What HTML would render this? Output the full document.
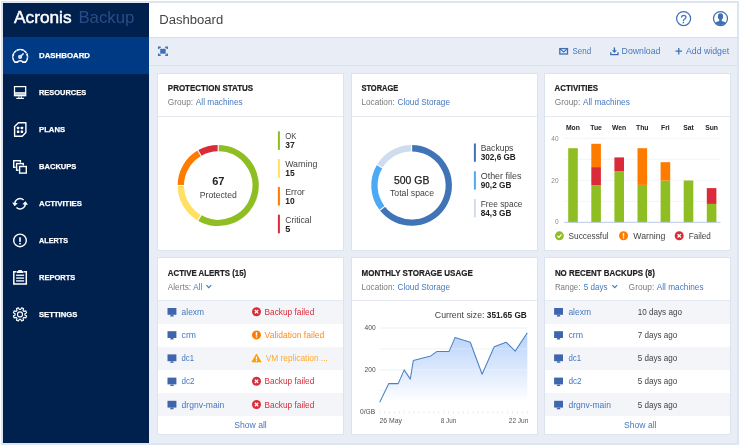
<!DOCTYPE html>
<html lang="en"><head><meta charset="utf-8"><title>Acronis Backup – Dashboard</title>
<style>
html,body{margin:0;padding:0;background:#fff}
body{width:740px;height:446px;position:relative;overflow:hidden;font-family:'Liberation Sans', sans-serif}
svg text{font-family:"Liberation Sans",sans-serif}
#frame{position:absolute;left:1px;top:1px;width:738px;height:443.5px;background:#dde5f0}
#app{position:absolute;left:3px;top:3px;width:734px;height:439.5px;background:#e9eef6;overflow:hidden}
#sidebar{position:absolute;left:0;top:0;width:146px;height:439.5px;background:#00204d}
#sidebar .active{position:absolute;left:0;top:34px;width:146px;height:37px;background:#003a85}
#topbar{position:absolute;left:146px;top:0;width:588px;height:34px;background:#fff}
#toolbar{position:absolute;left:146px;top:34px;width:588px;height:27px;border-top:1px solid #d6dfec;border-bottom:1px solid #d9e1ee;background:#e9eef6}
.card{position:absolute;background:#fff;border:1px solid #dbe3ef;box-sizing:content-box}
.card .sep{position:absolute;left:0;right:0;height:1px;background:#e4e9f2}
.card .row{position:absolute;left:0;right:0;height:23px}
</style></head><body>
<div id="frame"></div>
<div id="app">
<div id="sidebar"><div class="active"></div><svg width="146" height="439.5" viewBox="3 3 146 439.5" style="position:absolute;left:0;top:0;overflow:visible"><text x="14" y="23" font-size="16.4" fill="#fff" textLength="57.6" lengthAdjust="spacingAndGlyphs" id="logo1" stroke="#fff" stroke-width="0.45">Acronis</text><text x="78.4" y="23" font-size="16.2" fill="#294c88" textLength="56.0" lengthAdjust="spacingAndGlyphs" id="logo2">Backup</text><text x="39" y="58.2" font-size="7.9" font-weight="bold" fill="#fff" textLength="51.0" lengthAdjust="spacingAndGlyphs" class="nav" stroke="#fff" stroke-width="0.25">DASHBOARD</text><text x="39" y="95.2" font-size="7.9" font-weight="bold" fill="#fff" textLength="47.1" lengthAdjust="spacingAndGlyphs" class="nav" stroke="#fff" stroke-width="0.25">RESOURCES</text><text x="39" y="132.2" font-size="7.9" font-weight="bold" fill="#fff" textLength="26.1" lengthAdjust="spacingAndGlyphs" class="nav" stroke="#fff" stroke-width="0.25">PLANS</text><text x="39" y="169.2" font-size="7.9" font-weight="bold" fill="#fff" textLength="37.4" lengthAdjust="spacingAndGlyphs" class="nav" stroke="#fff" stroke-width="0.25">BACKUPS</text><text x="39" y="206.2" font-size="7.9" font-weight="bold" fill="#fff" textLength="43.0" lengthAdjust="spacingAndGlyphs" class="nav" stroke="#fff" stroke-width="0.25">ACTIVITIES</text><text x="39" y="243.2" font-size="7.9" font-weight="bold" fill="#fff" textLength="29.0" lengthAdjust="spacingAndGlyphs" class="nav" stroke="#fff" stroke-width="0.25">ALERTS</text><text x="39" y="280.2" font-size="7.9" font-weight="bold" fill="#fff" textLength="36.3" lengthAdjust="spacingAndGlyphs" class="nav" stroke="#fff" stroke-width="0.25">REPORTS</text><text x="39" y="317.2" font-size="7.9" font-weight="bold" fill="#fff" textLength="38.4" lengthAdjust="spacingAndGlyphs" class="nav" stroke="#fff" stroke-width="0.25">SETTINGS</text><path d="M14.9 62.1 A7.4 7.4 0 1 1 25.5 62.1 L22.7 62.1 Q22.2 60.7 20.2 60.7 Q18.2 60.7 17.7 62.1 Z" fill="none" stroke="#fff" stroke-width="1.55" stroke-linejoin="round"/><circle cx="20.1" cy="56.9" r="2.1" fill="#d3dcec"/><path d="M20.8 56.2L23.1 53.9" stroke="#e8edf6" stroke-width="1.5" stroke-linecap="round"/><path d="M13.90 57.00L12.80 57.00M14.74 53.85L13.79 53.30M17.05 51.54L16.50 50.59M20.20 50.70L20.20 49.60M23.35 51.54L23.90 50.59M25.66 53.85L26.61 53.30M26.50 57.00L27.60 57.00" stroke="#003a85" stroke-width="0.9"/><rect x="14.5" y="86.6" width="11.2" height="9.1" fill="none" stroke="#fff" stroke-width="1.25"/><rect x="14.5" y="92.2" width="11.2" height="3.6" fill="#fff"/><rect x="15.1" y="93.5" width="10" height="1.2" fill="#a7b4ca"/><path d="M18.9 96.3V98.3M21.3 96.3V98.3" stroke="#fff" stroke-width="1"/><rect x="16.3" y="97.8" width="7.6" height="1.2" fill="#fff"/><path d="M14.6 126.4L18.4 122.8H25.9V132.6L22.2 136.3H14.6Z" fill="none" stroke="#fff" stroke-width="1.4" stroke-linejoin="round"/><rect x="16.85" y="126.65" width="2.5" height="2.5" rx="0.6" fill="#fff"/><rect x="20.65" y="126.65" width="2.5" height="2.5" rx="0.6" fill="#fff"/><rect x="16.85" y="130.45" width="2.5" height="2.5" rx="0.6" fill="#fff"/><rect x="20.65" y="130.45" width="2.5" height="2.5" rx="0.6" fill="#fff"/><rect x="12.7" y="159.7" width="8.6" height="8.6" fill="#00204d"/><rect x="13.7" y="160.7" width="6.7" height="6.6" fill="#00204d" stroke="#fff" stroke-width="1.4"/><rect x="15.600000000000001" y="162.6" width="8.6" height="8.6" fill="#00204d"/><rect x="16.6" y="163.6" width="6.7" height="6.6" fill="#00204d" stroke="#fff" stroke-width="1.4"/><rect x="18.6" y="165.5" width="8.6" height="8.6" fill="#00204d"/><rect x="19.6" y="166.5" width="6.7" height="6.6" fill="#00204d" stroke="#fff" stroke-width="1.4"/><path d="M15 204.5A5.1 5.1 0 0 1 23.6 200" fill="none" stroke="#fff" stroke-width="1.5"/><path d="M12.2 202.4L14.6 206.2L17.8 203.2Z" fill="#fff"/><path d="M25.1 203A5.1 5.1 0 0 1 16.5 207.5" fill="none" stroke="#fff" stroke-width="1.5"/><path d="M27.9 205L25.6 201.2L22.3 204.2Z" fill="#fff"/><circle cx="20" cy="240.4" r="6.3" fill="none" stroke="#fff" stroke-width="1.4"/><rect x="19.05" y="237.3" width="1.9" height="4.6" fill="#dfe5ef"/><rect x="19.05" y="242.9" width="1.9" height="1.5" fill="#dfe5ef"/><path d="M16.5 271.8H13.8V284H26.3V271.8H23.6" fill="none" stroke="#fff" stroke-width="1.5"/><path d="M16.9 273V271.4Q18.2 271.2 18.6 269.9H21.6Q22 271.2 23.4 271.4V273Z" fill="#fff"/><rect x="16.1" y="274.55" width="8" height="1.5" fill="#dfe5ef"/><rect x="16.1" y="277.35" width="8" height="1.5" fill="#dfe5ef"/><rect x="16.1" y="280.15" width="8" height="1.5" fill="#dfe5ef"/><path d="M20.64 309.54L21.59 307.79L23.55 308.60L22.98 310.51L23.89 311.42L25.80 310.85L26.61 312.81L24.86 313.76L24.86 315.04L26.61 315.99L25.80 317.95L23.89 317.38L22.98 318.29L23.55 320.20L21.59 321.01L20.64 319.26L19.36 319.26L18.41 321.01L16.45 320.20L17.02 318.29L16.11 317.38L14.20 317.95L13.39 315.99L15.14 315.04L15.14 313.76L13.39 312.81L14.20 310.85L16.11 311.42L17.02 310.51L16.45 308.60L18.41 307.79L19.36 309.54Z" fill="none" stroke="#fff" stroke-width="1.15" stroke-linejoin="round"/><circle cx="20" cy="314.4" r="2.5" fill="none" stroke="#fff" stroke-width="1.15"/></svg></div>
<div id="topbar"><svg width="588" height="34" viewBox="149 3 588 34" style="position:absolute;left:0;top:0;overflow:visible"><text x="159.2" y="23.9" font-size="12" fill="#444" textLength="64.0" lengthAdjust="spacingAndGlyphs">Dashboard</text><circle cx="683.6" cy="18.6" r="7" fill="#fff" stroke="#3f70b6" stroke-width="1.25"/><text x="683.6" y="22.6" font-size="11.2" text-anchor="middle" fill="#3f70b6" stroke="#3f70b6" stroke-width="0.3">?</text><clipPath id="uc"><circle cx="720.5" cy="18.6" r="6.4"/></clipPath><circle cx="720.5" cy="18.6" r="7" fill="#fff" stroke="#3f70b6" stroke-width="1.25"/><g clip-path="url(#uc)" fill="#3f70b6"><ellipse cx="720.5" cy="16.6" rx="2.6" ry="3.3"/><path d="M719.2 18.5h2.6v2.6q3.6 .6 4.6 2.4v3h-11.8v-3q1-1.8 4.6-2.4z"/></g></svg></div>
<div id="toolbar"><svg width="588" height="28" viewBox="149 38 588 28" style="position:absolute;left:0;top:0;overflow:visible"><rect x="160.2" y="48.8" width="5.5" height="4.9" fill="#3f70b6"/><path d="M158.7 49V47.2H160.7M165.2 47.2H167.2V49M167.2 53.5V55.3H165.2M160.7 55.3H158.7V53.5" fill="none" stroke="#3f70b6" stroke-width="1.5"/><rect x="559.8" y="48.6" width="7.7" height="5.4" fill="none" stroke="#3f70b6" stroke-width="1.3"/><path d="M560 48.9L563.65 51.9L567.3 48.9" fill="none" stroke="#3f70b6" stroke-width="1.2"/><text x="572.4" y="54.4" font-size="8.4" fill="#4578be" textLength="18.7" lengthAdjust="spacingAndGlyphs">Send</text><path d="M610.8 52.3V54.6H618V52.3" fill="none" stroke="#3f70b6" stroke-width="1.3"/><path d="M614.4 47.4V51.5" stroke="#3f70b6" stroke-width="1.4"/><path d="M611.9 50.3H616.9L614.4 53.1Z" fill="#3f70b6"/><text x="621.6" y="54.4" font-size="8.4" fill="#4578be" textLength="38.8" lengthAdjust="spacingAndGlyphs">Download</text><path d="M675.5 51.2H682M678.75 47.9V54.5" stroke="#3f70b6" stroke-width="1.3"/><text x="686" y="54.4" font-size="8.4" fill="#4578be" textLength="43.2" lengthAdjust="spacingAndGlyphs">Add widget</text></svg></div>
<div class="card" style="left:154px;top:70px;width:185px;height:176px"><div class="sep" style="top:42px"></div><svg width="185" height="176" viewBox="158 74 185 176" style="position:absolute;left:0;top:0;overflow:visible"><text x="167.8" y="91.1" font-size="8.6" font-weight="bold" fill="#222" textLength="85.4" lengthAdjust="spacingAndGlyphs" stroke="#222" stroke-width="0.2">PROTECTION STATUS</text><text x="167.8" y="104.8" font-size="8.6" fill="#7b7b7b" textLength="25.3" lengthAdjust="spacingAndGlyphs">Group:</text><text x="195.8" y="104.8" font-size="8.6" fill="#4578be" textLength="46.9" lengthAdjust="spacingAndGlyphs">All machines</text><path d="M218.20 148.10A37.4 37.4 0 1 1 199.50 217.89" fill="none" stroke="#8fbe22" stroke-width="6.4"/><path d="M199.50 217.89A37.4 37.4 0 0 1 180.80 185.50" fill="none" stroke="#ffe063" stroke-width="6.4"/><path d="M180.80 185.50A37.4 37.4 0 0 1 199.50 153.11" fill="none" stroke="#ff7b00" stroke-width="6.4"/><path d="M199.50 153.11A37.4 37.4 0 0 1 218.20 148.10" fill="none" stroke="#d92b3a" stroke-width="6.4"/><path d="M218.20 152.30L218.20 143.90" stroke="#fff" stroke-width="1.1"/><path d="M201.60 214.25L197.40 221.53" stroke="#fff" stroke-width="1.1"/><path d="M185.00 185.50L176.60 185.50" stroke="#fff" stroke-width="1.1"/><path d="M201.60 156.75L197.40 149.47" stroke="#fff" stroke-width="1.1"/><text x="212.2" y="184.5" font-size="10.2" font-weight="bold" fill="#222" textLength="12.3" lengthAdjust="spacingAndGlyphs">67</text><text x="199.8" y="197.8" font-size="8.6" fill="#424242" textLength="37.0" lengthAdjust="spacingAndGlyphs">Protected</text><rect x="277.9" y="131.3" width="2" height="18.6" fill="#8fbe22"/><text x="285.2" y="139.10000000000002" font-size="8.6" fill="#424242" textLength="11.2" lengthAdjust="spacingAndGlyphs">OK</text><text x="285.2" y="148.10000000000002" font-size="8.6" font-weight="bold" fill="#222" textLength="9.4" lengthAdjust="spacingAndGlyphs">37</text><rect x="277.9" y="159.1" width="2" height="18.6" fill="#ffe063"/><text x="285.2" y="166.90000000000003" font-size="8.6" fill="#424242" textLength="32.2" lengthAdjust="spacingAndGlyphs">Warning</text><text x="285.2" y="175.90000000000003" font-size="8.6" font-weight="bold" fill="#222" textLength="9.4" lengthAdjust="spacingAndGlyphs">15</text><rect x="277.9" y="186.9" width="2" height="18.6" fill="#ff7b00"/><text x="285.2" y="194.70000000000002" font-size="8.6" fill="#424242" textLength="19.6" lengthAdjust="spacingAndGlyphs">Error</text><text x="285.2" y="203.70000000000002" font-size="8.6" font-weight="bold" fill="#222" textLength="9.4" lengthAdjust="spacingAndGlyphs">10</text><rect x="277.9" y="214.7" width="2" height="18.6" fill="#d92b3a"/><text x="285.2" y="222.50000000000003" font-size="8.6" fill="#424242" textLength="26.3" lengthAdjust="spacingAndGlyphs">Critical</text><text x="285.2" y="231.50000000000003" font-size="8.6" font-weight="bold" fill="#222" textLength="5.1" lengthAdjust="spacingAndGlyphs">5</text></svg></div>
<div class="card" style="left:348px;top:70px;width:185px;height:176px"><div class="sep" style="top:42px"></div><svg width="185" height="176" viewBox="352 74 185 176" style="position:absolute;left:0;top:0;overflow:visible"><text x="361.4" y="91.1" font-size="8.6" font-weight="bold" fill="#222" textLength="36.9" lengthAdjust="spacingAndGlyphs" stroke="#222" stroke-width="0.2">STORAGE</text><text x="361.4" y="104.8" font-size="8.6" fill="#7b7b7b" textLength="33.4" lengthAdjust="spacingAndGlyphs">Location:</text><text x="397.5" y="104.8" font-size="8.6" fill="#4578be" textLength="52.5" lengthAdjust="spacingAndGlyphs">Cloud Storage</text><path d="M411.60 148.25A37.2 37.2 0 1 1 382.29 208.35" fill="none" stroke="#4173b7" stroke-width="6.3"/><path d="M382.29 208.35A37.2 37.2 0 0 1 379.71 166.29" fill="none" stroke="#4ba9f6" stroke-width="6.3"/><path d="M379.71 166.29A37.2 37.2 0 0 1 411.60 148.25" fill="none" stroke="#cfdcee" stroke-width="6.3"/><path d="M411.60 152.45L411.60 144.05" stroke="#fff" stroke-width="1.1"/><path d="M385.60 205.77L378.98 210.94" stroke="#fff" stroke-width="1.1"/><path d="M383.31 168.45L376.11 164.13" stroke="#fff" stroke-width="1.1"/><text x="394" y="184" font-size="10.2" fill="#222" textLength="35.4" lengthAdjust="spacingAndGlyphs" stroke="#222" stroke-width="0.25">500 GB</text><text x="390" y="196.2" font-size="8.6" fill="#424242" textLength="44.0" lengthAdjust="spacingAndGlyphs">Total space</text><rect x="473.9" y="143.5" width="2" height="18.3" fill="#4173b7"/><text x="480.7" y="151.1" font-size="8.6" fill="#424242" textLength="32.7" lengthAdjust="spacingAndGlyphs">Backups</text><text x="480.7" y="160.2" font-size="8.6" font-weight="bold" fill="#222" textLength="35.1" lengthAdjust="spacingAndGlyphs">302,6 GB</text><rect x="473.9" y="171.3" width="2" height="18.3" fill="#4ba9f6"/><text x="480.7" y="178.9" font-size="8.6" fill="#424242" textLength="40.8" lengthAdjust="spacingAndGlyphs">Other files</text><text x="480.7" y="188.0" font-size="8.6" font-weight="bold" fill="#222" textLength="30.7" lengthAdjust="spacingAndGlyphs">90,2 GB</text><rect x="473.9" y="199.1" width="2" height="18.3" fill="#cfdcee"/><text x="480.7" y="206.7" font-size="8.6" fill="#424242" textLength="41.8" lengthAdjust="spacingAndGlyphs">Free space</text><text x="480.7" y="215.79999999999998" font-size="8.6" font-weight="bold" fill="#222" textLength="30.7" lengthAdjust="spacingAndGlyphs">84,3 GB</text></svg></div>
<div class="card" style="left:541px;top:70px;width:185px;height:176px"><div class="sep" style="top:42px"></div><svg width="185" height="176" viewBox="545 74 185 176" style="position:absolute;left:0;top:0;overflow:visible"><text x="554.6" y="91.1" font-size="8.6" font-weight="bold" fill="#222" textLength="43.4" lengthAdjust="spacingAndGlyphs" stroke="#222" stroke-width="0.2">ACTIVITIES</text><text x="554.8" y="104.8" font-size="8.6" fill="#7b7b7b" textLength="25.4" lengthAdjust="spacingAndGlyphs">Group:</text><text x="582.9" y="104.8" font-size="8.6" fill="#4578be" textLength="46.9" lengthAdjust="spacingAndGlyphs">All machines</text><path d="M564 201.3H720.6" stroke="#edf1f7" stroke-width="0.8"/><path d="M564 180.3H720.6" stroke="#edf1f7" stroke-width="0.8"/><path d="M564 159.3H720.6" stroke="#edf1f7" stroke-width="0.8"/><path d="M564 138.3H720.6" stroke="#edf1f7" stroke-width="0.8"/><text x="558.6" y="223.8" font-size="6.5" text-anchor="end" fill="#888">0</text><text x="558.6" y="182.70000000000002" font-size="6.5" text-anchor="end" fill="#888">20</text><text x="558.6" y="140.70000000000002" font-size="6.5" text-anchor="end" fill="#888">40</text><rect x="568.2" y="148.2" width="9.6" height="74.1" fill="#8fbe22"/><text x="572.95" y="129.9" font-size="6.8" font-weight="bold" text-anchor="middle" fill="#222">Mon</text><rect x="591.3" y="184.9" width="9.6" height="37.4" fill="#8fbe22"/><rect x="591.3" y="167.1" width="9.6" height="17.9" fill="#d92b3a"/><rect x="591.3" y="143.8" width="9.6" height="23.3" fill="#ff7b00"/><text x="596.0500000000001" y="129.9" font-size="6.8" font-weight="bold" text-anchor="middle" fill="#222">Tue</text><rect x="614.4" y="171.3" width="9.6" height="51.0" fill="#8fbe22"/><rect x="614.4" y="157.4" width="9.6" height="13.9" fill="#d92b3a"/><text x="619.1500000000001" y="129.9" font-size="6.8" font-weight="bold" text-anchor="middle" fill="#222">Wen</text><rect x="637.5" y="184.9" width="9.6" height="37.4" fill="#8fbe22"/><rect x="637.5" y="148.2" width="9.6" height="36.7" fill="#ff7b00"/><text x="642.25" y="129.9" font-size="6.8" font-weight="bold" text-anchor="middle" fill="#222">Thu</text><rect x="660.6" y="180.5" width="9.6" height="41.8" fill="#8fbe22"/><rect x="660.6" y="162.2" width="9.6" height="18.3" fill="#ff7b00"/><text x="665.35" y="129.9" font-size="6.8" font-weight="bold" text-anchor="middle" fill="#222">Fri</text><rect x="683.7" y="180.5" width="9.6" height="41.8" fill="#8fbe22"/><text x="688.45" y="129.9" font-size="6.8" font-weight="bold" text-anchor="middle" fill="#222">Sat</text><rect x="706.8" y="203.8" width="9.6" height="18.5" fill="#8fbe22"/><rect x="706.8" y="188.1" width="9.6" height="15.8" fill="#d92b3a"/><text x="711.5500000000001" y="129.9" font-size="6.8" font-weight="bold" text-anchor="middle" fill="#222">Sun</text><path d="M564 222.3H720.6" stroke="#b3c4e2" stroke-width="0.9"/><circle cx="559.4" cy="235.8" r="4.45" fill="#8fbe22"/><path d="M557.4 235.9l1.5 1.5l2.6-2.9" fill="none" stroke="#fff" stroke-width="1.2"/><text x="568.6" y="238.9" font-size="8.6" fill="#424242" textLength="40.0" lengthAdjust="spacingAndGlyphs">Successful</text><circle cx="623.5" cy="235.8" r="4.5" fill="#ff7b00"/><rect x="622.8" y="233.10000000000002" width="1.4" height="3.4" fill="#fff"/><rect x="622.8" y="237.20000000000002" width="1.4" height="1.3" fill="#fff"/><text x="633.3" y="238.9" font-size="8.6" fill="#424242" textLength="32.1" lengthAdjust="spacingAndGlyphs">Warning</text><circle cx="679.2" cy="235.8" r="4.5" fill="#d92b3a"/><path d="M677.5 234.10000000000002l3.4 3.4M680.9000000000001 234.10000000000002l-3.4 3.4" stroke="#fff" stroke-width="1.3"/><text x="688.7" y="238.9" font-size="8.6" fill="#424242" textLength="22.1" lengthAdjust="spacingAndGlyphs">Failed</text></svg></div>
<div class="card" style="left:154px;top:254px;width:185px;height:176px"><div class="sep" style="top:42px"></div><div class="row" style="top:43px;background:#f3f5f9"></div><div class="row" style="top:66px;background:#fff"></div><div class="row" style="top:89px;background:#f3f5f9"></div><div class="row" style="top:112px;background:#fff"></div><div class="row" style="top:135px;background:#f3f5f9"></div><svg width="185" height="176" viewBox="158 258 185 176" style="position:absolute;left:0;top:0;overflow:visible"><text x="167.8" y="276.2" font-size="8.6" font-weight="bold" fill="#222" textLength="78.4" lengthAdjust="spacingAndGlyphs" stroke="#222" stroke-width="0.2">ACTIVE ALERTS (15)</text><text x="167.8" y="290" font-size="8.6" fill="#7b7b7b" textLength="23.3" lengthAdjust="spacingAndGlyphs">Alerts:</text><text x="193.2" y="290" font-size="8.6" fill="#4578be" textLength="9.0" lengthAdjust="spacingAndGlyphs">All</text><path d="M206.4 285.2l2.4 2.4l2.4-2.4" fill="none" stroke="#4578be" stroke-width="1.2"/><rect x="167.5" y="308.0" width="8.9" height="6.8" fill="#3f66ad"/><path d="M170.8 314.8h2.3l.8 1.6h-3.9z" fill="#3f66ad"/><text x="181.6" y="314.8" font-size="8.6" fill="#4578be" textLength="22.4" lengthAdjust="spacingAndGlyphs">alexm</text><circle cx="256.5" cy="311.7" r="4.5" fill="#d92b3a"/><path d="M254.8 310.0l3.4 3.4M258.2 310.0l-3.4 3.4" stroke="#fff" stroke-width="1.3"/><text x="264.6" y="314.8" font-size="8.6" fill="#d92b3a" textLength="49.7" lengthAdjust="spacingAndGlyphs">Backup failed</text><rect x="167.5" y="331.2" width="8.9" height="6.8" fill="#3f66ad"/><path d="M170.8 338.0h2.3l.8 1.6h-3.9z" fill="#3f66ad"/><text x="181.6" y="338.0" font-size="8.6" fill="#4578be" textLength="14.4" lengthAdjust="spacingAndGlyphs">crm</text><circle cx="256.5" cy="334.9" r="4.5" fill="#ff7b00"/><rect x="255.8" y="332.2" width="1.4" height="3.4" fill="#fff"/><rect x="255.8" y="336.29999999999995" width="1.4" height="1.3" fill="#fff"/><text x="264.6" y="338.0" font-size="8.6" fill="#ff8a1a" textLength="59.7" lengthAdjust="spacingAndGlyphs">Validation failed</text><rect x="167.5" y="354.4" width="8.9" height="6.8" fill="#3f66ad"/><path d="M170.8 361.2h2.3l.8 1.6h-3.9z" fill="#3f66ad"/><text x="181.6" y="361.2" font-size="8.6" fill="#4578be" textLength="12.4" lengthAdjust="spacingAndGlyphs">dc1</text><path d="M256.5 354.09999999999997L261.1 361.9H251.9Z" fill="#ff9d00" stroke="#ff9d00" stroke-width="0.8" stroke-linejoin="round"/><rect x="255.9" y="356.49999999999994" width="1.2" height="3" fill="#fff"/><rect x="255.9" y="360.09999999999997" width="1.2" height="1.1" fill="#fff"/><text x="265.7" y="361.2" font-size="8.6" fill="#ffa92b" textLength="62.1" lengthAdjust="spacingAndGlyphs">VM replication ...</text><rect x="167.5" y="377.59999999999997" width="8.9" height="6.8" fill="#3f66ad"/><path d="M170.8 384.4h2.3l.8 1.6h-3.9z" fill="#3f66ad"/><text x="181.6" y="384.4" font-size="8.6" fill="#4578be" textLength="13.0" lengthAdjust="spacingAndGlyphs">dc2</text><circle cx="256.5" cy="381.29999999999995" r="4.5" fill="#d92b3a"/><path d="M254.8 379.59999999999997l3.4 3.4M258.2 379.59999999999997l-3.4 3.4" stroke="#fff" stroke-width="1.3"/><text x="264.6" y="384.4" font-size="8.6" fill="#d92b3a" textLength="49.7" lengthAdjust="spacingAndGlyphs">Backup failed</text><rect x="167.5" y="400.8" width="8.9" height="6.8" fill="#3f66ad"/><path d="M170.8 407.6h2.3l.8 1.6h-3.9z" fill="#3f66ad"/><text x="181.6" y="407.6" font-size="8.6" fill="#4578be" textLength="42.7" lengthAdjust="spacingAndGlyphs">drgnv-main</text><circle cx="256.5" cy="404.5" r="4.5" fill="#d92b3a"/><path d="M254.8 402.8l3.4 3.4M258.2 402.8l-3.4 3.4" stroke="#fff" stroke-width="1.3"/><text x="264.6" y="407.6" font-size="8.6" fill="#d92b3a" textLength="49.7" lengthAdjust="spacingAndGlyphs">Backup failed</text><text x="250.5" y="427.8" font-size="8.6" text-anchor="middle" fill="#4578be">Show all</text></svg></div>
<div class="card" style="left:348px;top:254px;width:185px;height:176px"><div class="sep" style="top:42px"></div><svg width="185" height="176" viewBox="352 258 185 176" style="position:absolute;left:0;top:0;overflow:visible"><text x="361.6" y="276.2" font-size="8.6" font-weight="bold" fill="#222" textLength="111.2" lengthAdjust="spacingAndGlyphs" stroke="#222" stroke-width="0.2">MONTHLY STORAGE USAGE</text><text x="361.4" y="290" font-size="8.6" fill="#7b7b7b" textLength="33.4" lengthAdjust="spacingAndGlyphs">Location:</text><text x="397.5" y="290" font-size="8.6" fill="#4578be" textLength="52.5" lengthAdjust="spacingAndGlyphs">Cloud Storage</text><text x="434.8" y="318.3" font-size="8.6" fill="#424242" textLength="49.7" lengthAdjust="spacingAndGlyphs">Current size:</text><text x="486.8" y="318.3" font-size="8.6" font-weight="bold" fill="#222" textLength="40.0" lengthAdjust="spacingAndGlyphs">351.65 GB</text><path d="M379.5 328H527.5" stroke="#e9eef6" stroke-width="0.8"/><path d="M379.5 348.9H527.5" stroke="#e9eef6" stroke-width="0.8"/><path d="M379.5 369.8H527.5" stroke="#e9eef6" stroke-width="0.8"/><path d="M379.5 390.7H527.5" stroke="#e9eef6" stroke-width="0.8"/><path d="M379.70 411.3v2.3M384.62 411.3v2.3M389.54 411.3v2.3M394.46 411.3v2.3M399.38 411.3v2.3M404.30 411.3v2.3M409.22 411.3v2.3M414.14 411.3v2.3M419.06 411.3v2.3M423.98 411.3v2.3M428.90 411.3v2.3M433.82 411.3v2.3M438.74 411.3v2.3M443.66 411.3v2.3M448.58 411.3v2.3M453.50 411.3v2.3M458.42 411.3v2.3M463.34 411.3v2.3M468.26 411.3v2.3M473.18 411.3v2.3M478.10 411.3v2.3M483.02 411.3v2.3M487.94 411.3v2.3M492.86 411.3v2.3M497.78 411.3v2.3M502.70 411.3v2.3M507.62 411.3v2.3M512.54 411.3v2.3M517.46 411.3v2.3M522.38 411.3v2.3M527.30 411.3v2.3" stroke="#e0e4eb" stroke-width="0.8"/><defs><linearGradient id="ag" gradientUnits="userSpaceOnUse" x1="0" y1="331" x2="0" y2="402"><stop offset="0" stop-color="#b4d1fb"/><stop offset="0.5" stop-color="#d9e7fd"/><stop offset="1" stop-color="#ffffff"/></linearGradient></defs><path d="M379.7 402.2L388.8 383.6L398.2 383.6L404.2 369.9L410.3 379.1L413.3 360.5L430.8 355.9L437 351.4L449.1 351.4L455 337.6L470.3 342.2L482.1 374.2L494.2 346.8L506.1 342.2L515.2 351.1L527.3 332.8L527.3 411H379.7Z" fill="url(#ag)"/><path d="M379.5 348.9H527.5" stroke="#fff" stroke-opacity="0.35" stroke-width="0.8"/><path d="M379.5 369.8H527.5" stroke="#fff" stroke-opacity="0.35" stroke-width="0.8"/><path d="M379.5 390.7H527.5" stroke="#fff" stroke-opacity="0.35" stroke-width="0.8"/><path d="M379.7 402.2L388.8 383.6L398.2 383.6L404.2 369.9L410.3 379.1L413.3 360.5L430.8 355.9L437 351.4L449.1 351.4L455 337.6L470.3 342.2L482.1 374.2L494.2 346.8L506.1 342.2L515.2 351.1L527.3 332.8" fill="none" stroke="#4e80c4" stroke-width="1.05" stroke-linejoin="round"/><text x="375.6" y="330.2" font-size="6.6" text-anchor="end" fill="#4a4a4a">400</text><text x="375.6" y="372" font-size="6.6" text-anchor="end" fill="#4a4a4a">200</text><text x="360" y="414" font-size="6.6" fill="#4a4a4a" textLength="15.2" lengthAdjust="spacingAndGlyphs">0/GB</text><text x="379.5" y="423" font-size="7.2" fill="#555" textLength="22.5" lengthAdjust="spacingAndGlyphs">26 May</text><text x="440.8" y="423" font-size="7.2" fill="#555" textLength="15.5" lengthAdjust="spacingAndGlyphs">8 Jun</text><text x="508.8" y="423" font-size="7.2" fill="#555" textLength="19.5" lengthAdjust="spacingAndGlyphs">22 Jun</text></svg></div>
<div class="card" style="left:541px;top:254px;width:185px;height:176px"><div class="sep" style="top:42px"></div><div class="row" style="top:43px;background:#f3f5f9"></div><div class="row" style="top:66px;background:#fff"></div><div class="row" style="top:89px;background:#f3f5f9"></div><div class="row" style="top:112px;background:#fff"></div><div class="row" style="top:135px;background:#f3f5f9"></div><svg width="185" height="176" viewBox="545 258 185 176" style="position:absolute;left:0;top:0;overflow:visible"><text x="554.9" y="276.2" font-size="8.6" font-weight="bold" fill="#222" textLength="100.0" lengthAdjust="spacingAndGlyphs" stroke="#222" stroke-width="0.2">NO RECENT BACKUPS (8)</text><text x="554.9" y="290" font-size="8.6" fill="#7b7b7b" textLength="25.6" lengthAdjust="spacingAndGlyphs">Range:</text><text x="583.8" y="290" font-size="8.6" fill="#4578be" textLength="23.8" lengthAdjust="spacingAndGlyphs">5 days</text><text x="628.6" y="290" font-size="8.6" fill="#7b7b7b" textLength="25.7" lengthAdjust="spacingAndGlyphs">Group:</text><text x="656.8" y="290" font-size="8.6" fill="#4578be" textLength="46.7" lengthAdjust="spacingAndGlyphs">All machines</text><path d="M612.3 285.2l2.4 2.4l2.4-2.4" fill="none" stroke="#4578be" stroke-width="1.2"/><rect x="554.1" y="308.0" width="8.9" height="6.8" fill="#3f66ad"/><path d="M557.4 314.8h2.3l.8 1.6h-3.9z" fill="#3f66ad"/><text x="568.4" y="314.8" font-size="8.6" fill="#4578be" textLength="22.6" lengthAdjust="spacingAndGlyphs">alexm</text><text x="637.8" y="314.8" font-size="8.6" fill="#424242" textLength="44.1" lengthAdjust="spacingAndGlyphs">10 days ago</text><rect x="554.1" y="331.2" width="8.9" height="6.8" fill="#3f66ad"/><path d="M557.4 338.0h2.3l.8 1.6h-3.9z" fill="#3f66ad"/><text x="568.4" y="338.0" font-size="8.6" fill="#4578be" textLength="14.6" lengthAdjust="spacingAndGlyphs">crm</text><text x="637.8" y="338.0" font-size="8.6" fill="#424242" textLength="39.5" lengthAdjust="spacingAndGlyphs">7 days ago</text><rect x="554.1" y="354.4" width="8.9" height="6.8" fill="#3f66ad"/><path d="M557.4 361.2h2.3l.8 1.6h-3.9z" fill="#3f66ad"/><text x="568.4" y="361.2" font-size="8.6" fill="#4578be" textLength="12.6" lengthAdjust="spacingAndGlyphs">dc1</text><text x="637.8" y="361.2" font-size="8.6" fill="#424242" textLength="39.5" lengthAdjust="spacingAndGlyphs">5 days ago</text><rect x="554.1" y="377.59999999999997" width="8.9" height="6.8" fill="#3f66ad"/><path d="M557.4 384.4h2.3l.8 1.6h-3.9z" fill="#3f66ad"/><text x="568.4" y="384.4" font-size="8.6" fill="#4578be" textLength="13.2" lengthAdjust="spacingAndGlyphs">dc2</text><text x="637.8" y="384.4" font-size="8.6" fill="#424242" textLength="39.5" lengthAdjust="spacingAndGlyphs">5 days ago</text><rect x="554.1" y="400.8" width="8.9" height="6.8" fill="#3f66ad"/><path d="M557.4 407.6h2.3l.8 1.6h-3.9z" fill="#3f66ad"/><text x="568.4" y="407.6" font-size="8.6" fill="#4578be" textLength="42.6" lengthAdjust="spacingAndGlyphs">drgnv-main</text><text x="637.8" y="407.6" font-size="8.6" fill="#424242" textLength="39.5" lengthAdjust="spacingAndGlyphs">5 days ago</text><text x="640.3" y="427.8" font-size="8.6" text-anchor="middle" fill="#4578be">Show all</text></svg></div>
</div>
</body></html>
